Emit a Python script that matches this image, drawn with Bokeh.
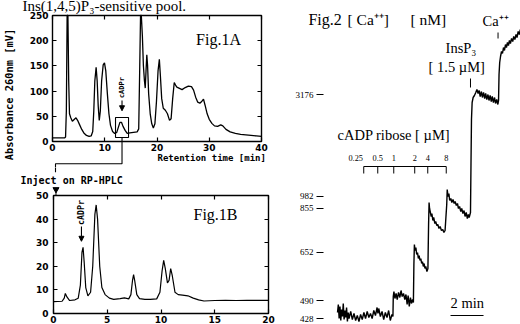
from math import pi
from bokeh.plotting import figure
from bokeh.models import Range1d, LinearAxis, Label, Arrow, NormalHead, FixedTicker
from bokeh.layouts import row, column
from bokeh.embed import file_html
from bokeh.resources import INLINE
from bokeh.core.properties import value

# ---------------- data ----------------
# Fig.1A  chromatogram (retention time [min], absorbance 260 nm [mV]); 250 = off scale
fig1a_time = [0.0, 2.3, 2.5, 2.65, 2.8, 2.95, 3.1, 3.25, 3.5, 3.8,
              4.2, 4.5, 4.8, 5.2, 5.6, 6.0, 6.5, 7.0, 7.4, 7.7,
              7.9, 8.1, 8.35, 8.55, 8.75, 8.95, 9.15, 9.4, 9.7, 9.95,
              10.2, 10.5, 10.8, 11.1, 11.5, 11.9, 12.3, 12.6, 12.9, 13.2,
              13.5, 13.9, 14.3, 14.8, 15.5, 16.2, 16.5, 16.7, 16.85, 17.0,
              17.2, 17.4, 17.6, 17.75, 17.9, 18.05, 18.2, 18.4, 18.7, 19.0,
              19.3, 19.6, 19.9, 20.2, 20.45, 20.65, 20.9, 21.2, 21.6, 22.0,
              22.4, 22.7, 23.0, 23.3, 23.55, 23.8, 24.2, 24.8, 25.4, 26.0,
              26.6, 27.0, 27.4, 27.8, 28.2, 28.6, 28.9, 29.2, 29.6, 30.0,
              30.5, 31.0, 31.6, 32.2, 32.6, 33.2, 34.0, 35.0, 36.0, 37.0,
              38.0, 39.0, 40.0]
fig1a_abs = [7, 7, 9, 60, 250, 250, 120, 55, 47, 40,
             44, 47, 42, 33, 24, 17, 12, 10, 11, 20,
             60, 120, 147, 120, 70, 42, 60, 120, 152, 156,
             140, 95, 55, 32, 20, 16, 18, 28, 38, 38,
             30, 22, 16, 17, 18, 19, 25, 150, 250, 250,
             210, 150, 120, 106, 140, 172, 150, 95, 55, 35,
             27, 35, 80, 140, 163, 130, 85, 66, 62, 55,
             42, 45, 85, 117, 112, 108, 106, 103, 107, 110,
             109, 102, 88, 78, 76, 80, 84, 72, 55, 44,
             36, 31, 30, 33, 31, 24, 19, 16, 14, 13,
             12, 11, 10]
fig1a_xticks = [0, 10, 20, 30, 40]
fig1a_yticks = [0, 50, 100, 150, 200, 250]
cadpr_box_1a = dict(left=12.06, right=14.55, bottom=7.9, top=47.6)   # boxed cADPr peak

# Fig.1B  RP-HPLC of the boxed fraction
fig1b_time = [0.0, 0.8, 1.0, 1.1, 1.25, 1.5, 2.0, 2.3, 2.5, 2.65,
              2.75, 2.85, 3.0, 3.2, 3.45, 3.65, 3.85, 3.97, 4.1, 4.3,
              4.5, 4.8, 5.2, 5.6, 6.2, 6.6, 7.0, 7.2, 7.35, 7.45,
              7.55, 7.75, 8.0, 8.5, 9.0, 9.6, 9.9, 10.1, 10.25, 10.4,
              10.6, 10.75, 10.9, 11.05, 11.3, 11.6, 12.0, 12.5, 13.0, 13.5,
              14.0, 15.0, 16.0, 17.0, 18.0, 19.0, 20.0]
fig1b_abs = [5, 5.2, 6.5, 8.5, 7, 5.5, 5.8, 6.5, 12, 26,
             28, 22, 11, 7.5, 9, 20, 42, 46, 40, 20,
             11, 8, 6.5, 6, 6.3, 6.6, 6.2, 8, 14, 16.5,
             14, 8, 6.3, 6, 6, 6.2, 9, 18, 22.5, 19,
             13, 14, 19, 16, 9, 8, 7.8, 7.5, 6.5, 5.8,
             5.3, 5.5, 5.6, 5.5, 5.6, 5.6, 5.6]
fig1b_xticks = [0, 5, 10, 15, 20]
fig1b_yticks = [0, 10, 20, 30, 40, 50]
inject_time = 0.23

# Fig.2  Ca++ trace (time [min], indicator signal [a.u.])
fig2_time = [0.00, 0.05, 0.10, 0.15, 0.20, 0.25, 0.30, 0.35, 0.40, 0.45,
             0.50, 0.55, 0.60, 0.65, 0.70, 0.80, 0.90, 1.00, 1.10, 1.20,
             1.30, 1.40, 1.50, 1.60, 1.70, 1.80, 1.90, 2.00, 2.10, 2.20,
             2.30, 2.40, 2.45, 2.50, 2.60, 2.70, 2.80, 2.90, 3.00, 3.10,
             3.20, 3.30, 3.36,
             3.38, 3.42, 3.48, 3.55, 3.62, 3.70, 3.78, 3.85, 3.92, 4.00,
             4.08, 4.15, 4.22, 4.28, 4.35, 4.42, 4.48, 4.55, 4.60,
             4.63, 4.66, 4.70, 4.75, 4.80, 4.85, 4.90, 4.95, 5.00, 5.05,
             5.10, 5.15, 5.20, 5.25, 5.30, 5.35, 5.42, 5.48,
             5.52, 5.55, 5.58, 5.63, 5.68, 5.72, 5.78, 5.83, 5.90, 5.95,
             6.02, 6.08, 6.15, 6.22, 6.30, 6.38, 6.45, 6.52,
             6.62, 6.65, 6.70, 6.75, 6.80, 6.87, 6.93, 7.00, 7.07, 7.13,
             7.20, 7.27, 7.33, 7.40, 7.47, 7.53, 7.60, 7.67, 7.73, 7.80,
             7.87, 7.93, 7.98,
             8.06, 8.09, 8.12, 8.16, 8.22, 8.30, 8.38, 8.45, 8.52, 8.58,
             8.65, 8.72, 8.78, 8.85, 8.92, 8.98, 9.05, 9.12, 9.18, 9.25,
             9.32, 9.38, 9.45, 9.52, 9.58, 9.65, 9.72,
             9.76, 9.79, 9.83, 9.88, 9.94, 10.00, 10.06, 10.12, 10.18, 10.24,
             10.30, 10.36, 10.42, 10.48, 10.55, 10.62, 10.68, 10.75, 10.82, 10.88,
             10.95, 11.02, 11.08]
fig2_signal = [12, 20, 6, 18, 4, 15, 8, 21, 5, 14,
               7, 17, 3, 12, 6, 13, 5, 11, 4, 9,
               3, 10, 5, 12, 6, 13, 7, 11, 6, 14,
               9, 17, 11, 16, 8, 13, 5, 12, 7, 14,
               4, 10, 8,
               28, 33, 26, 31, 25, 32, 27, 34, 28, 31,
               25, 30, 20, 29, 18, 27, 21, 25, 22,
               60, 80, 74, 77, 70, 72, 66, 69, 64, 66,
               61, 63, 58, 61, 56, 58, 53, 56,
               100, 122, 116, 112, 108, 111, 104, 107, 101, 103,
               99, 100, 96, 98, 94, 95, 92, 94,
               120, 135, 128, 131, 124, 126, 122, 125, 121, 123,
               119, 121, 116, 118, 113, 116, 111, 114, 108, 112,
               106, 110, 107,
               112, 160, 205, 222, 227, 229, 232, 235, 231, 234,
               228, 233, 227, 232, 226, 231, 225, 230, 224, 229,
               223, 228, 222, 227, 221, 225, 220,
               224, 250, 262, 268, 273, 271, 277, 274, 280, 277,
               282, 279, 284, 281, 286, 283, 288, 285, 290, 287,
               293, 290, 295]
ca_tick_signal = [5.7, 24.0, 72.3, 116.3, 128.3, 230.0]
ca_tick_labels = ["428", "490", "652", "855", "982", "3176"]
cadpr_conc = ["0.25", "0.5", "1", "2", "4", "8"]
cadpr_add_time = [1.59, 2.44, 3.41, 4.68, 5.47, 6.59]
insp3_add_time = 8.06
ca_add_time = 9.73
scale_bar_min = 2

assert len(fig1a_time) == len(fig1a_abs)
assert len(fig1b_time) == len(fig1b_abs)
assert len(fig2_time) == len(fig2_signal)

MONO = "DejaVu Sans Mono"
SANS = "DejaVu Sans"
SERIF = "Liberation Serif"


def panel(w, h, box_px, xlim, ylim):
    """Figure whose frame fills the canvas; the data box (xlim x ylim) sits at
    box_px = (left, right, top, bottom) canvas pixels."""
    l, r, t, b = box_px
    sx = (xlim[1] - xlim[0]) / (r - l)
    sy = (ylim[1] - ylim[0]) / (b - t)
    p = figure(width=w, height=h,
               x_range=Range1d(xlim[0] - l * sx, xlim[1] + (w - r) * sx),
               y_range=Range1d(ylim[0] - (h - b) * sy, ylim[1] + t * sy),
               x_axis_location=None, y_axis_location=None,
               output_backend="svg", toolbar_location=None,
               min_border_left=0, min_border_right=0, min_border_top=0, min_border_bottom=0)
    p.grid.visible = False
    p.outline_line_color = None
    p.background_fill_color = "white"
    p.border_fill_color = "white"
    return p


def add_axis(p, side, ticks, loc, labels=True, standoff=3):
    ax = LinearAxis(fixed_location=loc, ticker=FixedTicker(ticks=ticks))
    ax.major_tick_in = 4
    ax.major_tick_out = 0
    ax.major_tick_line_width = 1.2
    ax.major_tick_line_color = "black"
    ax.minor_tick_line_color = None
    ax.axis_line_color = None
    ax.major_label_standoff = standoff
    ax.major_label_text_font = SANS
    ax.major_label_text_font_style = "bold"
    ax.major_label_text_font_size = "9px"
    ax.major_label_text_color = "black" if labels else None
    p.add_layout(ax, side)
    return ax


def chrom(w, h, box_px, xt, yt, ystandoff):
    p = panel(w, h, box_px, (xt[0], xt[-1]), (yt[0], yt[-1]))
    p.quad(left=xt[0], right=xt[-1], bottom=yt[0], top=yt[-1],
           fill_color=None, line_color="black", line_width=1.4)
    add_axis(p, "below", xt, yt[0], standoff=2)
    add_axis(p, "left", yt, xt[0], standoff=ystandoff)
    add_axis(p, "above", xt, yt[-1], labels=False)
    add_axis(p, "right", yt, xt[-1], labels=False)
    return p


def lab(p, x, y, text, font=MONO, size="9px", bold=True, align="left", angle=0):
    p.add_layout(Label(x=x, y=y, text=text, text_font=font, text_font_size=size,
                       text_font_style="bold" if bold else "normal",
                       text_color="black", text_align=align, text_baseline="middle",
                       angle=angle))


# ---------------- Fig.1A ----------------
p1a = chrom(280, 167, (52, 261, 15, 141), fig1a_xticks, fig1a_yticks, 4)
p1a.line(fig1a_time, fig1a_abs, line_color="black", line_width=1.3)
p1a.quad(fill_color=None, line_color="black", line_width=1.1, **cadpr_box_1a)
p1a.add_layout(Label(x=-5.74, y=267.9, text="Ins(1,4,5)P\u2083-sensitive pool.",
                     text_font=SERIF, text_font_size="15px", text_color="black",
                     text_baseline="alphabetic"))
lab(p1a, -8.23, 93.3, "Absorbance 260nm [mV]", size="10.4px", align="center", angle=pi / 2)
lab(p1a, 20.1, -33.7, "Retention time [min]", size="9px")
lab(p1a, 31.77, 202.4, "Fig.1A", font=SERIF, size="16px", bold=False, align="center")
cx = (cadpr_box_1a["left"] + cadpr_box_1a["right"]) / 2
lab(p1a, cx, 107, "cADPr", size="7px", align="center", angle=pi / 2)
p1a.add_layout(Arrow(end=NormalHead(size=5, fill_color="black", line_color="black"),
                     x_start=cx, y_start=81.3, x_end=cx, y_end=61, line_width=1.1))
# connector from the boxed peak down to Fig.1B
p1a.line(x=[cx, cx, 0.574, 0.574], y=[cadpr_box_1a["bottom"], -44.2, -44.2, -70],
         line_color="black", line_width=1.1)

# ---------------- Fig.1B ----------------
p1b = chrom(280, 157, (53, 268, 28, 146), fig1b_xticks, fig1b_yticks, 5)
p1b.line(fig1b_time, fig1b_abs, line_color="black", line_width=1.2)
p1b.line(x=[0.186, 0.186], y=[66, 59.9], line_color="black", line_width=1.1)
lab(p1b, -3.07, 56.4, "Inject on RP-HPLC", size="10px")
p1b.scatter(x=[inject_time], y=[52.6], marker="inverted_triangle", size=6,
            fill_color="black", line_color="black")
p1b.line(x=[inject_time, inject_time], y=[52.0, 50.0], line_color="black", line_width=1)
lab(p1b, 15.07, 41.9, "Fig.1B", font=SERIF, size="16px", bold=False, align="center")
lab(p1b, 2.6, 42.8, "cADPr", size="8.3px", align="center", angle=pi / 2)
p1b.add_layout(Arrow(end=NormalHead(size=5, fill_color="black", line_color="black"),
                     x_start=2.6, y_start=36.9, x_end=2.6, y_end=30.6, line_width=1.1))

# ---------------- Fig.2 ----------------
px_per_min = 16.5
t0_px = 57          # canvas px of t = 0
axis_px = 43        # canvas px of the Ca axis
p2 = panel(240, 324, (t0_px, t0_px + px_per_min, 0, 324), (0, 1), (0, 324))
ya = LinearAxis(fixed_location=(axis_px - t0_px) / px_per_min,
                ticker=FixedTicker(ticks=ca_tick_signal))
ya.major_label_overrides = {t: l for t, l in zip(ca_tick_signal, ca_tick_labels)}
ya.axis_line_color = None
ya.major_tick_in = 0
ya.major_tick_out = 7
ya.major_tick_line_width = 1
ya.major_tick_line_color = "black"
ya.minor_tick_line_color = None
ya.major_label_standoff = 3
ya.major_label_text_font = SERIF
ya.major_label_text_font_size = "9px"
ya.major_label_text_color = "black"
p2.add_layout(ya, "left")

p2.line(fig2_time, fig2_signal, line_color="black", line_width=1.4)

# cADP ribose additions bracket
p2.segment(x0=cadpr_add_time[0], x1=cadpr_add_time[-1], y0=158, y1=158,
           line_color="black", line_width=1)
p2.segment(x0=cadpr_add_time, x1=cadpr_add_time, y0=[158] * 6, y1=[151] * 6,
           line_color="black", line_width=1)
p2.text(x=cadpr_add_time, y=[167] * 6, text=cadpr_conc, x_offset=[-8, 0, 0, 0, 0, 0],
        text_font=value(SERIF), text_font_size="8.3px", text_color="black",
        text_align="center", text_baseline="middle")
# InsP3 and Ca++ addition marks
p2.segment(x0=[insp3_add_time, ca_add_time], x1=[insp3_add_time, ca_add_time],
           y0=[237, 286], y1=[246, 292], line_color="black", line_width=1)
# 2 min scale bar
p2.segment(x0=6.85, x1=6.85 + scale_bar_min, y0=9, y1=9, line_color="black", line_width=1.2)

lab(p2, -1.76, 305, "Fig.2", font=SERIF, size="16px", bold=False)
lab(p2, 0.61, 305, "[ Ca\u207a\u207a]", font=SERIF, size="15.5px", bold=False)
lab(p2, 4.42, 305, "[ nM]", font=SERIF, size="15.5px", bold=False)
lab(p2, 8.79, 304, "Ca\u207a\u207a", font=SERIF, size="14.5px", bold=False)
lab(p2, 6.55, 277, "InsP\u2083", font=SERIF, size="14.5px", bold=False)
lab(p2, 5.52, 258, "[ 1.5  \u00b5M]", font=SERIF, size="14.5px", bold=False)
lab(p2, 0.0, 190, "cADP ribose [ \u00b5M]", font=SERIF, size="14.5px", bold=False)
lab(p2, 6.85, 22, "%d min" % scale_bar_min, font=SERIF, size="14.5px", bold=False)

layout = row(column(p1a, p1b), p2)
open("out.html", "w").write(file_html(layout, INLINE))
